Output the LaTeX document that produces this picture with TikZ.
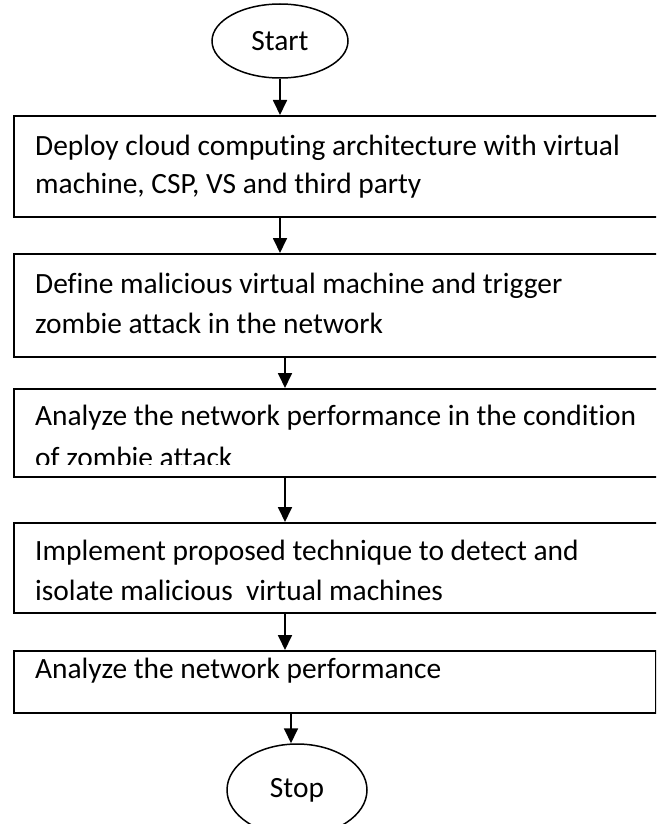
\documentclass[tikz,border=0pt]{standalone}
\usepackage{fontspec}
\setmainfont{Carlito}[Ligatures=NoCommon]
\usetikzlibrary{arrows.meta,shapes.geometric}
\begin{document}
\begin{tikzpicture}[x=1pt,y=-1pt,
  stepbox/.style={draw,line width=1.8pt,rectangle,inner sep=0pt,anchor=north west},
  term/.style={draw,line width=1.5pt,ellipse,inner sep=0pt,font=\fontsize{29.4}{34}\selectfont},
  txt/.style={anchor=base west,inner sep=0pt,font=\fontsize{29.4}{34}\selectfont},
  flow/.style={line width=1.8pt,-{Triangle[length=15pt,width=14pt]}}]
\useasboundingbox (0,0) rectangle (656,824);
\clip (0,0) rectangle (656,824);

% terminals
\node[term,minimum width=136pt,minimum height=74pt] (start) at (280,41) {Start};
\node[term,minimum width=140pt,minimum height=92pt] (stop) at (297,790) {Stop};

% process boxes (the wide ones run past the right edge)
\node[stepbox,minimum width=700pt,minimum height=101pt] (b1) at (13,115) {};
\node[stepbox,minimum width=700pt,minimum height=103pt] (b2) at (13,253) {};
\node[stepbox,minimum width=700pt,minimum height=88pt] (b3) at (13,388) {};
\node[stepbox,minimum width=700pt,minimum height=90pt] (b4) at (13,522) {};
\node[stepbox,minimum width=642pt,minimum height=62pt] (b5) at (13,650) {};

% box texts
\node[txt] (t1a) at (35,155) {Deploy cloud computing architecture with virtual};
\node[txt] (t1b) at (35,193) {machine, CSP, VS and third party};
\node[txt] (t2a) at (35,293) {Define malicious virtual machine and trigger};
\node[txt] (t2b) at (35,333) {zombie attack in the network};
\node[txt] (t3a) at (35,425) {Analyze the network performance in the condition};
\begin{scope}
  \clip (0,440) rectangle (656,464);
  \node[txt] (t3b) at (35,467) {of zombie attack};
\end{scope}
\node[txt] (t4a) at (35,560) {Implement proposed technique to detect and};
\node[txt] (t4b) at (35,600) {isolate malicious\ \ virtual machines};
\node[txt] (t5) at (35,678) {Analyze the network performance};

% connectors
\coordinate (colA) at (280,0);
\coordinate (colB) at (285,0);
\coordinate (colC) at (291,0);
\draw[flow] (start.south) -- (b1.north -| colA);
\draw[flow] (b1.south -| colA) -- (b2.north -| colA);
\draw[flow] (b2.south -| colB) -- (b3.north -| colB);
\draw[flow] (b3.south -| colB) -- (b4.north -| colB);
\draw[flow] (b4.south -| colB) -- (b5.north -| colB);
\draw[flow] (b5.south -| colC) -- (colC |- stop.north);
\end{tikzpicture}
\end{document}
